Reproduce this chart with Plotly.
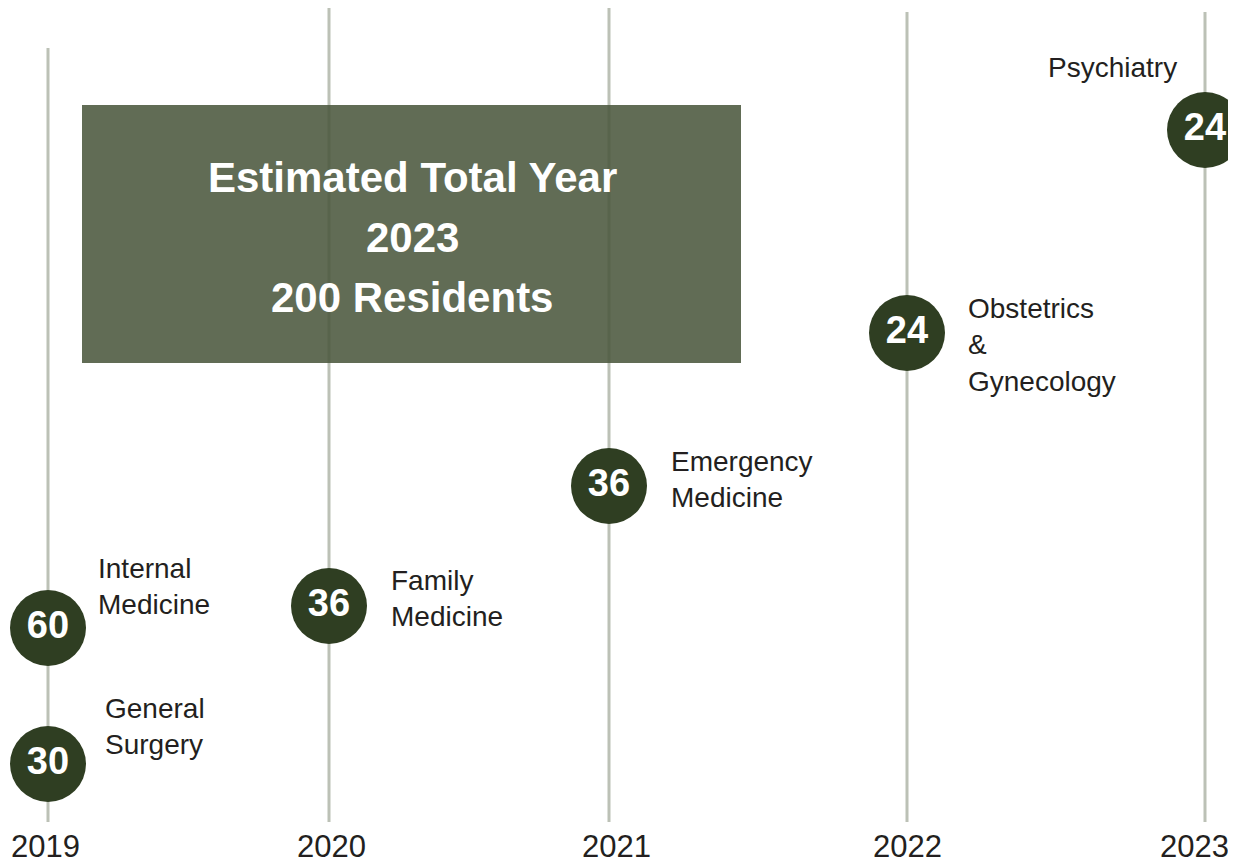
import plotly.graph_objects as go

# ---- data ----
years = [2019, 2020, 2021, 2022, 2023]
specialties = ["General<br>Surgery", "Internal<br>Medicine", "Family<br>Medicine",
               "Emergency<br>Medicine", "Obstetrics<br>&<br>Gynecology", "Psychiatry"]
spec_years = [2019, 2019, 2020, 2021, 2022, 2023]
residents = [30, 60, 36, 36, 24, 24]
total_year = 2023
total_residents = 200

# ---- layout constants (timeline placement) ----
W, H = 1236, 865
PAGE_MARGIN = 8  # default body margin of the page
year_x = {2019: 48, 2020: 329, 2021: 609, 2022: 907, 2023: 1205}
year_label_dx = {2019: -3, 2020: 2, 2021: 7, 2022: 0, 2023: -11}
line_top = {2019: 48, 2020: 5, 2021: 5, 2022: 12, 2023: 12}
line_bottom = 822
marker_level = [764, 628, 606, 486, 333, 130]
label_dx = [55, 48, 60, 60, 59, -26]
label_dy = [-38, -42, -8, -7, 12, -63]

LINE_C = "#bcc1b6"
DOT_C = "#2f3e22"
TXT_C = "#231f20"
FONT = "Liberation Sans"

fig = go.Figure()

# vertical year lines
for y in years:
    fig.add_trace(go.Scatter(x=[year_x[y], year_x[y]], y=[max(line_top[y], PAGE_MARGIN), line_bottom],
                             mode="lines", line=dict(color=LINE_C, width=3),
                             hoverinfo="skip", showlegend=False))

# resident circles
fig.add_trace(go.Scatter(
    x=[year_x[y] for y in spec_years], y=marker_level,
    mode="markers+text",
    marker=dict(size=76, color=DOT_C, line=dict(width=0)),
    text=[str(v) for v in residents], textposition="middle center",
    textfont=dict(family=FONT, size=38, color="white", weight="bold"),
    hoverinfo="skip", showlegend=False))

annotations = []
# specialty labels
for i, s in enumerate(specialties):
    annotations.append(dict(
        x=year_x[spec_years[i]] + label_dx[i], y=marker_level[i] + label_dy[i],
        xref="x", yref="y", text=s, showarrow=False,
        xanchor="right" if label_dx[i] < 0 else "left", yanchor="middle", align="left",
        font=dict(family=FONT, size=28, color=TXT_C)))

# year labels
for y in years:
    annotations.append(dict(
        x=year_x[y] + year_label_dx[y], y=846, xref="x", yref="y", text=str(y),
        showarrow=False, xanchor="center", yanchor="middle",
        font=dict(family=FONT, size=31, color=TXT_C)))

# total box text
box_lines = ["Estimated Total Year", str(total_year), f"{total_residents} Residents"]
for j, t in enumerate(box_lines):
    annotations.append(dict(
        x=412, y=177 + 60 * j, xref="x", yref="y", text=t, showarrow=False,
        xanchor="center", yanchor="middle",
        font=dict(family=FONT, size=42, color="white", weight="bold")))

fig.update_layout(
    width=W - PAGE_MARGIN, height=H - PAGE_MARGIN, margin=dict(l=0, r=0, t=0, b=0),
    paper_bgcolor="white", plot_bgcolor="white",
    xaxis=dict(range=[PAGE_MARGIN, W], visible=False, fixedrange=True),
    yaxis=dict(range=[H, PAGE_MARGIN], visible=False, fixedrange=True),
    shapes=[dict(type="rect", xref="x", yref="y", x0=82, x1=741, y0=105, y1=363,
                 fillcolor="rgb(74,86,60)", opacity=0.87, line=dict(width=0),
                 layer="above")],
    annotations=annotations,
)

fig.write_html("out.html")
